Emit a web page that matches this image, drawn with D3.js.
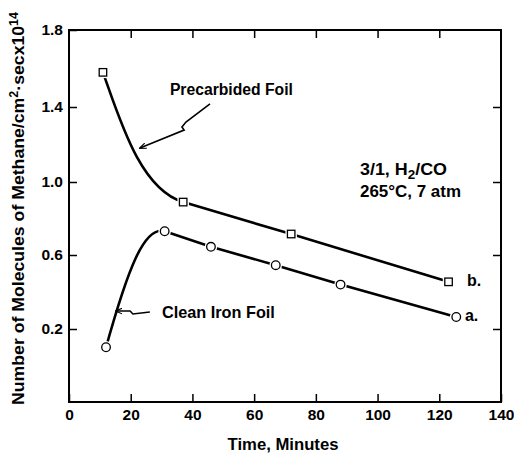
<!DOCTYPE html>
<html>
<head>
<meta charset="utf-8">
<script src="https://cdn.jsdelivr.net/npm/d3@7"></script>
<style>
  html, body { margin: 0; padding: 0; background: #fff; }
  svg { display: block; }
  text { font-family: "Liberation Sans", Arial, Helvetica, sans-serif; fill: #000; }
</style>
</head>
<body>
<svg id="chart" width="514" height="456"></svg>
<script>
// ---------------- data ----------------
const xTicks = [0, 20, 40, 60, 80, 100, 120, 140];
const yTicks = [0.2, 0.6, 1.0, 1.4, 1.8];
const yTickLabels = ["0.2", "0.6", "1.0", "1.4", "1.8"];

// a. Clean Iron Foil (circles)
const timeA = [12, 31, 46, 67, 88, 125.5];
const rateA = [0.10, 0.73, 0.645, 0.545, 0.44, 0.265];
// b. Precarbided Foil (squares)
const timeB = [11, 37, 72, 123];
const rateB = [1.58, 0.89, 0.715, 0.455];

// ---------------- layout ----------------
const svg = d3.select("#chart");
const W = 514, H = 456;
const plot = { left: 69, right: 501, top: 30, bottom: 402 };

const x = d3.scaleLinear().domain([0, 140]).range([plot.left, plot.right]);
// piecewise linear scale following the printed tick spacing
const y = d3.scaleLinear()
  .domain([-0.2, 0.2, 0.6, 1.0, 1.4, 1.8])
  .range([402, 329, 255, 182, 107, 30]);

const g = svg.append("g");

// frame
g.append("rect")
  .attr("x", plot.left).attr("y", plot.top)
  .attr("width", plot.right - plot.left).attr("height", plot.bottom - plot.top)
  .attr("fill", "none").attr("stroke", "#000").attr("stroke-width", 2);

// axes (ticks pointing inward)
const fontAxis = "bold 15.5px 'Liberation Sans', Arial, sans-serif";
const xAxis = g.append("g").attr("transform", `translate(0,${plot.bottom})`)
  .call(d3.axisBottom(x).tickValues(xTicks).tickFormat(d3.format("d"))
    .tickSizeInner(-8).tickSizeOuter(0).tickPadding(7));
const xAxisTop = g.append("g").attr("transform", `translate(0,${plot.top})`)
  .call(d3.axisTop(x).tickValues(xTicks.slice(1, -1)).tickFormat("")
    .tickSizeInner(-8).tickSizeOuter(0));
const yAxis = g.append("g").attr("transform", `translate(${plot.left},0)`)
  .call(d3.axisLeft(y).tickValues(yTicks).tickFormat((d, i) => yTickLabels[i])
    .tickSizeInner(-8).tickSizeOuter(0).tickPadding(6));
const yAxisRight = g.append("g").attr("transform", `translate(${plot.right},0)`)
  .call(d3.axisRight(y).tickValues(yTicks.slice(0, -1)).tickFormat("")
    .tickSizeInner(-8).tickSizeOuter(0));

[xAxis, xAxisTop, yAxis, yAxisRight].forEach(a => {
  a.select(".domain").remove();
  a.selectAll("line").attr("stroke", "#000").attr("stroke-width", 1.5);
  a.selectAll("text").style("font", fontAxis).attr("fill", "#000");
});

// ---------------- series ----------------
const ptsA = timeA.map((t, i) => [x(t), y(rateA[i])]);
const ptsB = timeB.map((t, i) => [x(t), y(rateB[i])]);

// first segment is a hand-drawn style curve, rest are straight segments
function seriesPath(pts, h) {
  const p = d3.path();
  const [x0, y0] = pts[0], [x1, y1] = pts[1];
  const dx = x1 - x0, dy = y1 - y0;
  p.moveTo(x0, y0);
  p.bezierCurveTo(x0 + h[0] * dx, y0 + h[1] * dy, x1 - h[2] * dx, y1 - h[3] * dy, x1, y1);
  for (let i = 2; i < pts.length; i++) p.lineTo(pts[i][0], pts[i][1]);
  return p.toString();
}

g.append("path").attr("d", seriesPath(ptsB, [0.21, 0.36, 0.54, 0.10]))
  .attr("fill", "none").attr("stroke", "#000").attr("stroke-width", 2.6)
  .attr("stroke-linecap", "round").attr("stroke-linejoin", "round");
g.append("path").attr("d", seriesPath(ptsA, [0.37, 0.67, 0.35, -0.05]))
  .attr("fill", "none").attr("stroke", "#000").attr("stroke-width", 2.6)
  .attr("stroke-linecap", "round").attr("stroke-linejoin", "round");

// markers with a small white halo
const sq = 7.5;
[["#fff", 4], ["#000", 1.3]].forEach(([c, w]) => {
  g.selectAll(null).data(ptsB).enter().append("rect")
    .attr("x", d => d[0] - sq / 2).attr("y", d => d[1] - sq / 2)
    .attr("width", sq).attr("height", sq)
    .attr("fill", "#fff").attr("stroke", c).attr("stroke-width", w);
  g.selectAll(null).data(ptsA).enter().append("circle")
    .attr("cx", d => d[0]).attr("cy", d => d[1]).attr("r", 4.3)
    .attr("fill", "#fff").attr("stroke", c).attr("stroke-width", w);
});

// ---------------- annotations ----------------
function txt(xv, yv, s, size, weight, len) {
  const t = g.append("text").attr("x", x(xv)).attr("y", y(yv))
    .style("font-size", size + "px").style("font-weight", weight).text(s);
  if (len) t.attr("textLength", len).attr("lengthAdjust", "spacingAndGlyphs");
  return t;
}
txt(32.7, 1.462, "Precarbided Foil", 16, "bold", 123);
txt(30.1, 0.259, "Clean Iron Foil", 16.5, "bold", 113);

// conditions
const c1 = g.append("text").attr("x", x(94.3)).attr("y", y(1.037))
  .style("font-size", "16px").style("font-weight", "600")
  .attr("textLength", 87).attr("lengthAdjust", "spacingAndGlyphs");
c1.append("tspan").text("3/1, H");
c1.append("tspan").attr("dy", 4).style("font-size", "12px").text("2");
c1.append("tspan").attr("dy", -4).text("/CO");
txt(94.3, 0.918, "265°C, 7 atm", 16, "600", 101);

txt(129, 0.432, "b.", 16, "bold");
txt(128.3, 0.243, "a.", 16, "bold");

// arrows (zig-zag leaders)
const lineGen = d3.line().x(d => x(d[0])).y(d => y(d[1]));
const arrowB = [[45.7, 1.416], [37.9, 1.32], [36.6, 1.293], [37.3, 1.277], [23.0, 1.181]];
const arrowA = [[26.2, 0.292], [20.7, 0.281], [19.8, 0.297], [15.2, 0.297]];
svg.append("defs").append("marker").attr("id", "ah")
  .attr("viewBox", "0 0 10 10").attr("refX", 9).attr("refY", 5)
  .attr("markerWidth", 7).attr("markerHeight", 7).attr("orient", "auto")
  .attr("markerUnits", "userSpaceOnUse")
  .append("path").attr("d", "M0,1 L10,5 L0,9").attr("fill", "none")
  .attr("stroke", "#000").attr("stroke-width", 1.6);
[arrowB, arrowA].forEach(a => {
  g.append("path").attr("d", lineGen(a)).attr("fill", "none")
    .attr("stroke", "#000").attr("stroke-width", 1.6).attr("marker-end", "url(#ah)");
});

// axis titles
g.append("text").attr("x", (plot.left + plot.right) / 2 - 2).attr("y", 450)
  .attr("text-anchor", "middle").style("font-size", "16.5px").style("font-weight", "bold")
  .attr("textLength", 111).attr("lengthAdjust", "spacingAndGlyphs")
  .text("Time, Minutes");

const yl = g.append("text")
  .attr("transform", `translate(24,${(12 + 405) / 2}) rotate(-90)`)
  .attr("text-anchor", "middle").style("font-size", "17px").style("font-weight", "bold")
  .attr("textLength", 393).attr("lengthAdjust", "spacingAndGlyphs");
yl.append("tspan").text("Number of Molecules of Methane/cm");
yl.append("tspan").attr("dy", -6).style("font-size", "12px").text("2");
yl.append("tspan").attr("dy", 6).text("·secx10");
yl.append("tspan").attr("dy", -6).style("font-size", "12px").text("14");
</script>
</body>
</html>
